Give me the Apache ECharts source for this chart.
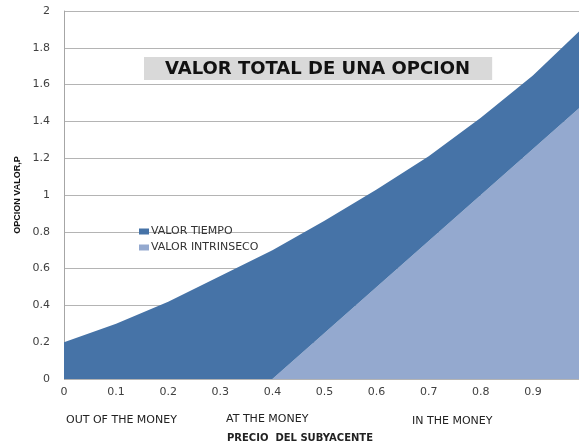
<!DOCTYPE html>
<html>
<head>
<meta charset="utf-8">
<script src="https://cdn.jsdelivr.net/npm/echarts@6/dist/echarts.min.js"></script>
<style>html,body{margin:0;padding:0;background:#fff}#c{width:579px;height:445px}</style>
</head>
<body>
<div id="c"></div>
<script>
const precio = ['0', '0.1', '0.2', '0.3', '0.4', '0.5', '0.6', '0.7', '0.8', '0.9', '1'];
const valorIntrinseco = [0, 0, 0, 0, 0, 0.25, 0.5, 0.75, 1.0, 1.25, 1.5];
const valorTiempo = [0.2, 0.3, 0.42, 0.56, 0.70, 0.61, 0.53, 0.46, 0.42, 0.40, 0.42];
const zonas = ['OUT OF THE MONEY', 'AT THE MONEY', 'IN THE MONEY'];

const chart = echarts.init(document.getElementById('c'), null, {renderer: 'canvas'});
const lbl = {fontFamily: 'DejaVu Sans', fontSize: 11, color: '#404040'};
const zonaStyle = {fontFamily: 'DejaVu Sans', fontSize: 11, fontWeight: 'normal', color: '#222'};
chart.setOption({
  animation: false,
  backgroundColor: '#fff',
  title: [
    {text: 'VALOR TOTAL DE UNA OPCION', left: 144, top: 57, padding: [3, 22, 2, 21],
     backgroundColor: '#d9d9d9',
     textStyle: {fontFamily: 'DejaVu Sans', fontWeight: 'bold', fontSize: 18, color: '#111'}},
    {text: zonas[0], left: 66, top: 415, padding: 0, textStyle: zonaStyle},
    {text: zonas[1], left: 226, top: 414, padding: 0, textStyle: zonaStyle},
    {text: zonas[2], left: 412, top: 416, padding: 0, textStyle: zonaStyle}
  ],
  legend: {
    data: ['VALOR TIEMPO', 'VALOR INTRINSECO'],
    orient: 'vertical', left: 134, top: 221, itemGap: 5,
    icon: 'rect', itemWidth: 10, itemHeight: 6,
    textStyle: {fontFamily: 'DejaVu Sans', fontSize: 11, color: '#333', padding: [0, 0, 0, -3]}
  },
  grid: {left: 64, top: 11, width: 521, bottom: 66, containLabel: false, outerBoundsMode: 'none'},
  xAxis: {
    type: 'category', data: precio, boundaryGap: false,
    name: 'PRECIO  DEL SUBYACENTE', nameLocation: 'middle', nameGap: 54,
    nameTextStyle: {fontFamily: 'DejaVu Sans', fontSize: 10, fontWeight: 'bold', color: '#222', padding: [0, 0, 0, -49]},
    axisLine: {show: false}, axisTick: {show: false}, splitLine: {show: false},
    axisLabel: Object.assign({}, lbl, {margin: 8, interval: 0,
      formatter: (v, i) => i === precio.length - 1 ? '' : v})
  },
  yAxis: {
    type: 'value', min: 0, max: 2, interval: 0.2,
    name: 'OPCION VALOR,P', nameLocation: 'middle', nameGap: 42, nameRotate: 90,
    nameTextStyle: {fontFamily: 'Liberation Sans', fontSize: 9, fontWeight: 'bold', color: '#111'},
    axisLine: {show: true, lineStyle: {color: '#a6a6a6'}}, axisTick: {show: false},
    splitLine: {show: true, lineStyle: {color: '#b4b4b4', width: 1}},
    axisLabel: Object.assign({}, lbl, {margin: 14,
      formatter: v => String(Math.round(v * 10) / 10)})
  },
  series: [
    {name: 'VALOR INTRINSECO', type: 'line', stack: 'total', showSymbol: false, symbol: 'none',
     lineStyle: {width: 0}, itemStyle: {color: '#94a9cf'}, areaStyle: {color: '#94a9cf', opacity: 1},
     data: valorIntrinseco},
    {name: 'VALOR TIEMPO', type: 'line', stack: 'total', showSymbol: false, symbol: 'none',
     lineStyle: {width: 0}, itemStyle: {color: '#4673a7'}, areaStyle: {color: '#4673a7', opacity: 1},
     data: valorTiempo}
  ]
});
</script>
</body>
</html>
